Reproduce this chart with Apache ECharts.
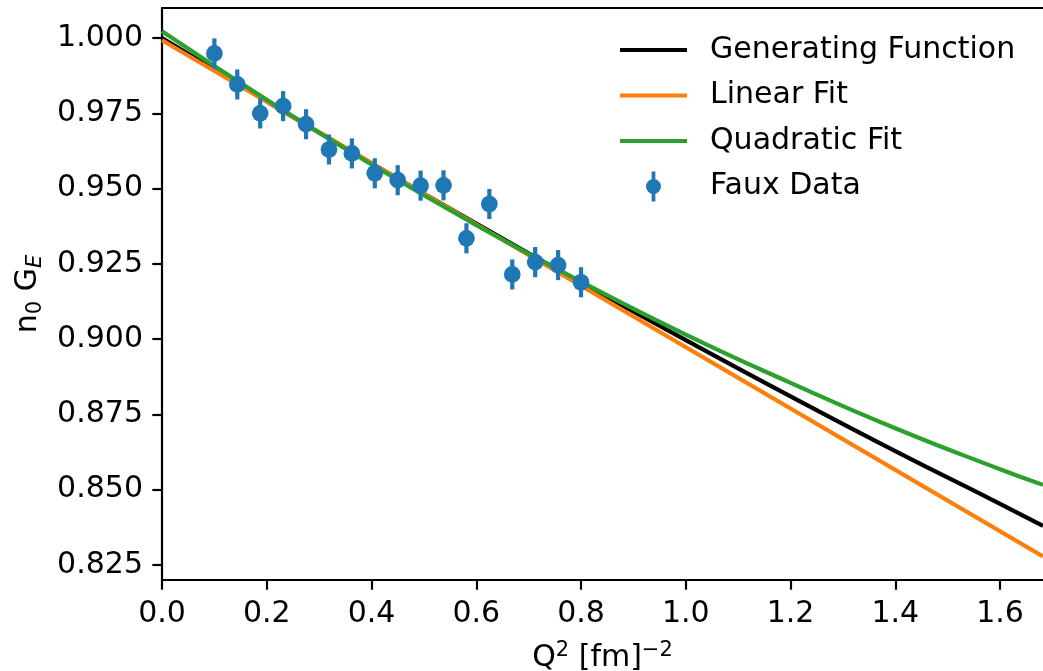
<!DOCTYPE html>
<html>
<head>
<meta charset="utf-8">
<script src="https://cdn.jsdelivr.net/npm/echarts@6/dist/echarts.min.js"></script>
<style>
  html, body { margin: 0; padding: 0; background: #fff; }
  #chart { width: 1043px; height: 671px; }
</style>
</head>
<body>
<div id="chart"></div>
<script>
const curveQ = [0, 0.2, 0.4, 0.6, 0.8, 1.0, 1.2, 1.4, 1.6, 1.682];
const generatingFunction = [1.000, 0.9790, 0.9584, 0.9384, 0.9188, 0.8997, 0.8810, 0.8628, 0.8453, 0.8380];
const quadraticFit = [1.0023, 0.9795, 0.9580, 0.9379, 0.9191, 0.9015, 0.8855, 0.8704, 0.8568, 0.8516];
// straight line, two ends are enough
const linearQ = [0, 1.682];
const linearFit = [0.9993, 0.8278];

// faux data points with error bars
const dataQ = [0.1, 0.14375, 0.1875, 0.23125, 0.275, 0.31875, 0.3625, 0.40625, 0.45,
  0.49375, 0.5375, 0.58125, 0.625, 0.66875, 0.7125, 0.75625, 0.8];
const dataVal = [0.9949, 0.9846, 0.9750, 0.9774, 0.9714, 0.9630, 0.9617, 0.9551, 0.9528,
  0.9510, 0.9511, 0.9335, 0.9449, 0.9215, 0.9256, 0.9246, 0.9189];
const dataErr = [0.005, 0.005, 0.005, 0.005, 0.005, 0.005, 0.005, 0.005, 0.005,
  0.005, 0.005, 0.005, 0.005, 0.005, 0.005, 0.005, 0.005];

const xTicks = [0, 0.2, 0.4, 0.6, 0.8, 1.0, 1.2, 1.4, 1.6];
const yTicks = [0.825, 0.85, 0.875, 0.9, 0.925, 0.95, 0.975, 1.0];

const FONT = 'DejaVu Sans';
const FS = 30;
const LW = 4.2;
const C_BLUE = '#1f77b4';

function pairs(xs, ys) {
  return xs.map((x, i) => [x, ys[i]]);
}

const chart = echarts.init(document.getElementById('chart'));

const lineIcon = 'path://M0,0 H67 V4 H0 Z';
const dotIcon = 'path://M4,16 a8,8 0 1,1 16,0 a8,8 0 1,1 -16,0 Z M10,0 h4 v32 h-4 Z';

const option = {
  animation: false,
  backgroundColor: '#fff',
  textStyle: { fontFamily: FONT },
  grid: { left: 162, top: 8, right: 0, bottom: 91, outerBoundsMode: 'none' },
  legend: {
    orient: 'vertical',
    left: 615,
    top: 30,
    itemWidth: 67,
    itemHeight: 30,
    itemGap: 15.5,
    selectedMode: false,
    textStyle: { fontFamily: FONT, fontSize: FS, color: '#000', padding: [0, 0, 0, 18] },
    data: [
      { name: 'Generating Function', icon: lineIcon },
      { name: 'Linear Fit', icon: lineIcon },
      { name: 'Quadratic Fit', icon: lineIcon },
      { name: 'Faux Data', icon: dotIcon }
    ]
  },
  xAxis: [
    {
      type: 'value',
      min: 0,
      max: 1.682,
      name: 'Q{sup|2} [fm]{sup|−2}',
      nameLocation: 'middle',
      nameGap: 60,
      nameTextStyle: {
        fontFamily: FONT, fontSize: FS, color: '#000', lineHeight: 36,
        rich: { sup: { fontFamily: FONT, fontSize: 21, verticalAlign: 'top', lineHeight: 36 } }
      },
      axisLine: { show: true, onZero: false, lineStyle: { color: '#000', width: 2.2 } },
      axisTick: { show: true, length: 9.7, lineStyle: { color: '#000', width: 2.2 }, customValues: xTicks },
      axisLabel: {
        fontFamily: FONT, fontSize: FS, color: '#000', margin: 19,
        customValues: xTicks,
        formatter: v => v.toFixed(1)
      },
      splitLine: { show: false }
    },
    {
      type: 'value',
      position: 'top',
      min: 0,
      max: 1.682,
      axisLine: { show: true, onZero: false, lineStyle: { color: '#000', width: 2.2 } },
      axisTick: { show: false },
      axisLabel: { show: false },
      splitLine: { show: false }
    }
  ],
  yAxis: {
    type: 'value',
    min: 0.82,
    max: 1.01,
    name: 'n{sub|0} G{subi|E}',
    nameLocation: 'middle',
    nameGap: 103,
    nameRotate: 90,
    nameTextStyle: {
      fontFamily: FONT, fontSize: FS, color: '#000', lineHeight: 36,
      rich: {
        sub: { fontFamily: FONT, fontSize: 21, verticalAlign: 'bottom', lineHeight: 36 },
        subi: { fontFamily: FONT, fontSize: 21, fontStyle: 'italic', verticalAlign: 'bottom', lineHeight: 36 }
      }
    },
    axisLine: { show: true, onZero: false, lineStyle: { color: '#000', width: 2.2 } },
    axisTick: { show: true, length: 9.7, lineStyle: { color: '#000', width: 2.2 }, customValues: yTicks },
    axisLabel: {
      fontFamily: FONT, fontSize: FS, color: '#000', margin: 19,
      customValues: yTicks,
      formatter: v => v.toFixed(3)
    },
    splitLine: { show: false }
  },
  series: [
    {
      name: 'Generating Function',
      type: 'line',
      color: '#000000',
      showSymbol: false,
      smooth: true,
      lineStyle: { color: '#000000', width: LW },
      data: pairs(curveQ, generatingFunction),
      z: 2
    },
    {
      name: 'Linear Fit',
      type: 'line',
      color: '#ff7f0e',
      showSymbol: false,
      lineStyle: { color: '#ff7f0e', width: LW },
      data: pairs(linearQ, linearFit),
      z: 3
    },
    {
      name: 'Quadratic Fit',
      type: 'line',
      color: '#2ca02c',
      showSymbol: false,
      smooth: true,
      lineStyle: { color: '#2ca02c', width: LW },
      data: pairs(curveQ, quadraticFit),
      z: 4
    },
    {
      name: 'Faux Data',
      type: 'custom',
      color: C_BLUE,
      z: 5,
      renderItem: function (params, api) {
        const x = api.value(0);
        const y = api.value(1);
        const e = api.value(2);
        const top = api.coord([x, y + e]);
        const bot = api.coord([x, y - e]);
        return {
          type: 'line',
          shape: { x1: top[0], y1: top[1], x2: bot[0], y2: bot[1] },
          style: { stroke: C_BLUE, lineWidth: LW }
        };
      },
      data: dataQ.map((q, i) => [q, dataVal[i], dataErr[i]])
    },
    {
      name: 'Faux Data',
      type: 'scatter',
      color: C_BLUE,
      symbol: 'circle',
      symbolSize: 16.7,
      itemStyle: { color: C_BLUE, opacity: 1 },
      data: pairs(dataQ, dataVal),
      z: 6
    }
  ]
};

chart.setOption(option);
</script>
</body>
</html>
